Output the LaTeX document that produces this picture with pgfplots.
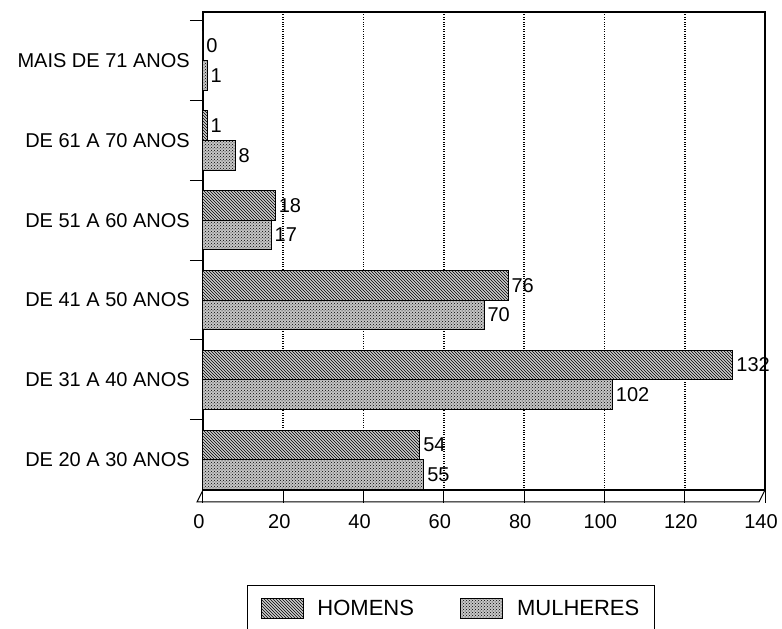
\documentclass[border=0pt]{standalone}
\usepackage{fontspec}
\setmainfont{Liberation Sans}
\usepackage{pgfplots}
\usepackage{pgfplotstable}
\pgfplotsset{compat=1.18}
\usetikzlibrary{patterns}

\pgfplotstableread{
y homens mulheres
0 54 55
1 132 102
2 76 70
3 18 17
4 1 8
5 0 1
}\data

\pgfplotsset{
  hstyle/.style={draw=black, line width=1pt, fill=gray!40, postaction={pattern=north west lines, pattern color=black}},
  mstyle/.style={draw=black, line width=1pt, fill=gray!45, postaction={pattern=crosshatch dots, pattern color=black}},
  patch/.style={legend image code/.code={\draw[##1, line width=1pt] (0pt,-10pt) rectangle (42pt,10pt);}},
}

\begin{document}
\begin{tikzpicture}[x=1pt,y=1pt]
\begin{axis}[
  at={(203pt,139pt)}, anchor=south west,
  scale only axis, width=562pt, height=478pt,
  xmin=0, xmax=140, ymin=-0.38, ymax=5.61,
  clip=false,
  axis line style={line width=1.2pt},
  xtick={0,20,...,140},
  minor xtick={0,20,...,140},
  ytick={0,...,5},
  minor ytick={0.5,1.5,...,5.5},
  yticklabels={DE 20 A 30 ANOS, DE 31 A 40 ANOS, DE 41 A 50 ANOS, DE 51 A 60 ANOS, DE 61 A 70 ANOS, MAIS DE 71 ANOS},
  major tick length=0pt, minor tick length=13pt,
  tick align=outside, xtick pos=bottom, ytick pos=left,
  minor tick style={line width=1pt, black},
  xmajorgrids,
  major grid style={dotted, line width=1.7pt, black},
  /pgf/number format/assume math mode=true,
  tick label style={font=\fontsize{20}{24}\selectfont},
  yticklabel style={inner sep=0pt, xshift=-13pt},
  xticklabel style={inner sep=0pt, yshift=-24pt, xshift=-4pt},
  legend columns=2,
  legend style={at={(0.0783,-0.1987)}, anchor=north west, draw=black, line width=1pt,
    font=\fontsize{22}{26}\selectfont, inner xsep=13pt, inner ysep=13pt,
    /tikz/every odd column/.append style={column sep=12pt},
    /tikz/every even column/.append style={column sep=44pt}},
  every node near coord/.append style={font=\fontsize{20}{24}\selectfont, black, inner sep=3pt},
]
\addplot[xbar, bar width=0.37, bar shift=0.185, hstyle, patch, nodes near coords,
  every node near coord/.append style={yshift=14.8pt}] table[x=homens, y=y] {\data};
\addlegendentry{HOMENS}
\addplot[xbar, bar width=0.37, bar shift=-0.185, mstyle, patch, nodes near coords,
  every node near coord/.append style={yshift=-14.8pt}] table[x=mulheres, y=y] {\data};
\addlegendentry{MULHERES}
\draw[line width=1pt] (rel axis cs:0,0) -- ([shift={(-6pt,-12pt)}]rel axis cs:0,0) -- ([shift={(-6pt,-12pt)}]rel axis cs:1,0) -- (rel axis cs:1,0);
\end{axis}
\pgfresetboundingbox
\path[use as bounding box] (0,0) rectangle (782pt,629pt);
\end{tikzpicture}
\end{document}
